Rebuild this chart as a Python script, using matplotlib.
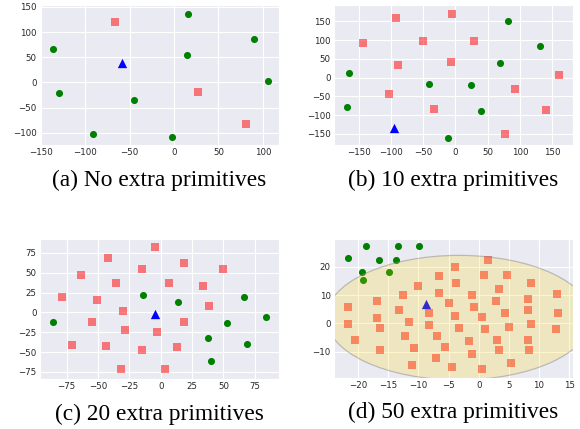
import numpy as np
import matplotlib
matplotlib.use("Agg")
import matplotlib.pyplot as plt
import seaborn as sns
from matplotlib.patches import Ellipse

# %% data
# (a) no extra primitives
a_circ_x = [-136.8, -130.0, -91.4, -45.5, -1.9, 14.3, 16.2, 90.2, 106.0]
a_circ_y = [65.6, -20.5, -102.6, -34.4, -108.0, 53.6, 136.4, 86.1, 3.3]
a_sq_x = [-66.2, 26.7, 80.8]
a_sq_y = [120.5, -19.9, -82.8]
a_tri = [-58.6, 37.7]

# (b) 10 extra primitives
b_circ_x = [82.4, 130.6, 69.4, -164.8, -41.5, 24.9, -167.4, 39.9, -10.9]
b_circ_y = [151.9, 84.4, 40.0, 11.5, -16.0, -20.4, -78.2, -87.9, -159.9]
b_sq_x = [-92.2, -5.7, -143.5, -50.8, 28.5, -88.6, -7.3, 160.1, -102.6, 92.2, -32.6, 139.9, 77.7]
b_sq_y = [159.0, 168.7, 91.5, 96.8, 98.6, 34.6, 40.9, 8.0, -44.4, -29.3, -84.4, -87.0, -151.0]
b_tri = [-94.8, -134.0]

# (c) 20 extra primitives
c_circ_x = [-85.6, -13.8, 14.1, 52.9, 37.8, 66.5, 84.3, 69.1, 39.9]
c_circ_y = [-12.6, 21.4, 13.0, -13.4, -31.9, 19.3, -5.5, -40.3, -61.8]
c_sq_x = [-4.3, -41.8, 18.9, -14.6, 50.0, -63.3, -35.4, 6.4, 33.5, -79.0, -51.1, 38.8,
          -30.3, -54.5, 18.4, -28.2, -3.2, -71.0, -43.4, 13.3, -15.2, -31.4, 3.7]
c_sq_y = [81.9, 68.1, 62.2, 54.2, 54.6, 46.6, 36.6, 37.0, 33.6, 18.9, 15.1, 7.6,
          2.1, -12.6, -12.6, -22.3, -25.2, -41.6, -42.9, -44.1, -47.9, -71.8, -71.0]
c_tri = [-4.3, -1.5]

# (d) 50 extra primitives
d_circ_x = [-18.7, -13.4, -9.9, -21.7, -16.5, -13.7, -19.3, -14.9, -19.2]
d_circ_y = [27.3, 27.3, 27.3, 23.0, 22.5, 22.5, 18.1, 18.1, 15.2]
d_sq_x = [1.5, -3.9, -6.6, 0.9, 4.7, -3.8, -10.0, 8.7, 3.4, -6.6, -12.6, -1.1, 13.0,
          -16.8, 2.9, 8.2, -5.0, -21.7, -0.7, -13.2, -8.2, 4.3, 8.2, 13.2, -16.8, -3.9,
          0.5, -11.6, -21.7, -8.2, -16.4, -3.2, 1.1, 5.1, 8.6, 12.8, -12.2, -6.9, -20.5,
          -1.6, 3.0, 8.2, -10.8, -5.6, -16.4, 3.3, 8.4, -1.1, -7.1, 5.4, -11.0, -4.4, 0.6]
d_sq_y = [22.3, 19.9, 16.7, 17.0, 17.0, 14.3, 13.1, 14.3, 12.2, 10.7, 9.9, 9.9, 10.4,
          7.9, 7.9, 8.7, 7.1, 5.7, 5.9, 4.7, 3.5, 3.8, 4.7, 3.7, 2.0, 2.5,
          2.1, 0.6, -0.1, -0.7, -1.8, -1.6, -2.0, -1.3, -0.2, -2.1, -4.5, -4.6, -5.9,
          -6.4, -5.9, -5.9, -8.8, -8.5, -9.5, -9.4, -9.5, -10.8, -12.1, -14.1, -14.8, -15.5, -16.0]
d_tri = [-8.8, 6.8]
d_ell = [-3.3, 2.0, 44.0, 44.0]  # centre x, centre y, width, height

captions = ["(a) No extra primitives", "(b) 10 extra primitives",
            "(c) 20 extra primitives", "(d) 50 extra primitives"]


# %%
sns.set_style("darkgrid")
plt.rcParams['font.family'] = ['DejaVu Sans']

fig = plt.figure(figsize=(5.8, 4.29), dpi=100)
pos = [[0.069, 0.662, 0.4116, 0.326],
       [0.5759, 0.662, 0.4116, 0.326],
       [0.069, 0.1166, 0.4116, 0.326],
       [0.5759, 0.119, 0.4116, 0.324]]

panels = [
    (a_circ_x, a_circ_y, a_sq_x, a_sq_y, a_tri, (-151, 118), (-124.5, 153.6),
     np.arange(-150, 101, 50), np.arange(-100, 151, 50)),
    (b_circ_x, b_circ_y, b_sq_x, b_sq_y, b_tri, (-188, 182), (-179.4, 193.6),
     np.arange(-150, 151, 50), np.arange(-150, 151, 50)),
    (c_circ_x, c_circ_y, c_sq_x, c_sq_y, c_tri, (-96.3, 94.1), (-84, 92.4),
     np.arange(-75, 76, 25), np.arange(-75, 76, 25)),
    (d_circ_x, d_circ_y, d_sq_x, d_sq_y, d_tri, (-24.0, 15.6), (-19.3, 29.8),
     np.arange(-20, 16, 5), np.arange(-10, 21, 10)),
]

for i, (cx, cy, sx, sy, tri, xl, yl, xt, yt) in enumerate(panels):
    ax = fig.add_axes(pos[i])
    ax.scatter(sx, sy, marker='s', s=26, color='red', alpha=0.5, linewidths=0)
    ax.scatter(cx, cy, marker='o', s=26, color='green', linewidths=0)
    ax.scatter([tri[0]], [tri[1]], marker='^', s=45, color='blue', linewidths=0)
    if i == 3:
        ell = Ellipse((d_ell[0], d_ell[1]), d_ell[2], d_ell[3],
                      facecolor=(1.0, 0.84, 0.0, 0.2), edgecolor=(0.5, 0.5, 0.5, 0.45), lw=0.9)
        ax.add_patch(ell)
    ax.set_xlim(*xl)
    ax.set_ylim(*yl)
    ax.set_xticks(xt)
    ax.set_yticks(yt)
    ax.tick_params(labelsize=6.2, colors='.15', length=0, pad=2.5)
    # caption below the axes
    ax.text(0.5, -0.25, captions[i], transform=ax.transAxes, ha='center', va='center',
            fontsize=16.8, family='Liberation Serif', color='black')

fig.savefig('out.png', dpi=100)
